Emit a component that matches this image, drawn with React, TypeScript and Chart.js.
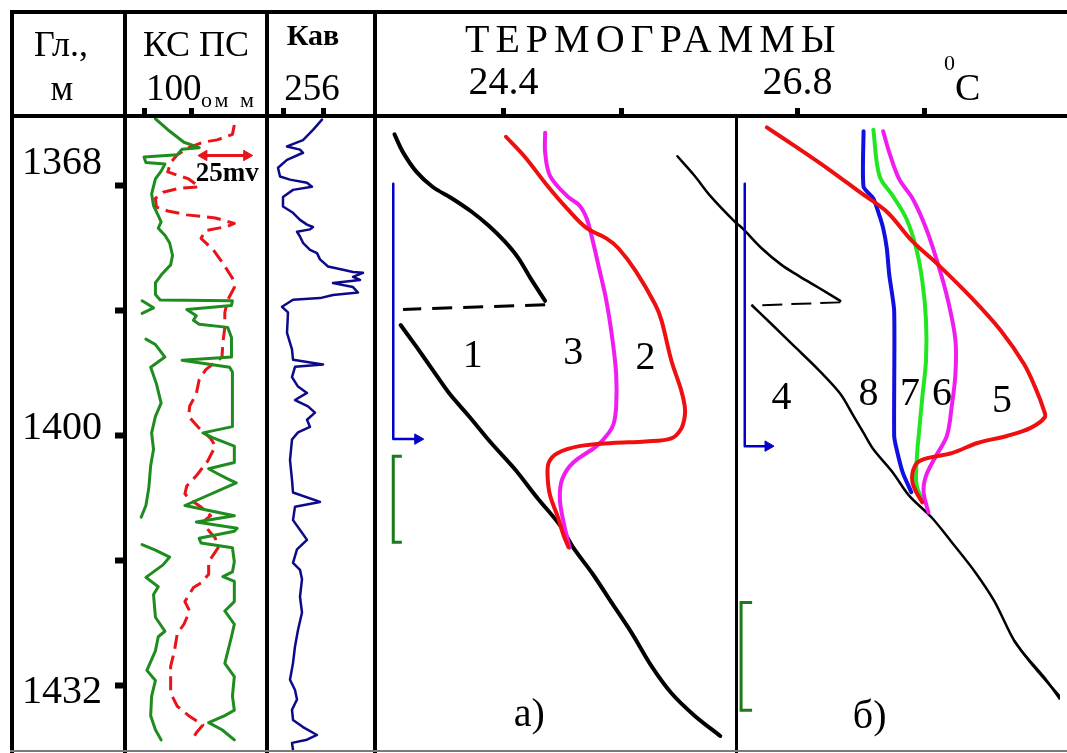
import React, { useEffect, useRef } from "react";
import { Chart, registerables } from "chart.js";

Chart.register(...registerables);

const SERIF = '"Liberation Serif", "Times New Roman", Times, serif';

// ---------- depth axis (m) ----------
const depthTop = 1359.3;
const depthBottom = 1439.3;
const depthTicks = [1368, 1384, 1400, 1416, 1432];
const depthTickLabels = ["1368", "", "1400", "", "1432"];

// ---------- track scales ----------
const ksRange = [-40, 244]; // КС, Ohm·m
const ksTicks = [0, 100];
const psRange = [-71, 0]; // ПС, mV
const kavRange = [200, 308]; // Кав, mm
const kavTicks = [216, 256];
const tempRange = [23.408, 28.944]; // °C
const tempTicks = [24.4, 25.36, 26.8, 27.84];
const tempTickLabels = ["24.4", "", "26.8", ""];

// ---------- КС (resistivity), [Ohm·m, depth] ----------
const ksMain = [
  [24, 1359.4], [50, 1360.8], [84, 1362.4], [116, 1363.1], [80, 1363.3], [70, 1364.0], [0, 1364.3],
  [4, 1365.0], [44, 1365.2], [36, 1366.1], [24, 1367.1], [16, 1369.0], [20, 1370.5], [30, 1371.8],
  [36, 1372.6], [30, 1373.4], [44, 1374.3], [54, 1375.3], [60, 1376.9], [56, 1378.1], [36, 1379.4],
  [24, 1380.4], [24, 1381.9], [34, 1382.6], [186, 1382.7], [184, 1383.3], [90, 1383.8], [110, 1384.6],
  [104, 1385.2], [116, 1385.7], [176, 1386.1], [184, 1387.4], [184, 1389.9], [80, 1390.3], [180, 1391.2],
  [186, 1391.8], [186, 1398.8], [124, 1399.6], [144, 1400.2], [190, 1401.3], [190, 1403.4], [136, 1404.2],
  [154, 1404.8], [176, 1405.5], [194, 1406.0], [86, 1408.9], [190, 1410.2], [110, 1411.0], [196, 1411.8],
  [190, 1412.2], [116, 1413.1], [120, 1413.7], [186, 1414.3], [190, 1416.1], [186, 1417.4], [166, 1418.0],
  [190, 1418.6], [190, 1421.2], [170, 1422.4], [190, 1424.1], [184, 1425.7], [170, 1429.1], [190, 1430.8],
  [186, 1433.3], [190, 1435.1], [170, 1435.8], [136, 1436.7], [164, 1437.6], [190, 1438.9],
];
const ksDeep = [
  [-4, 1382.7], [20, 1383.6], [-4, 1384.3], [null, null],
  [4, 1387.6], [24, 1388.3], [44, 1389.9], [14, 1391.2], [26, 1393.3], [36, 1395.8], [24, 1397.5],
  [16, 1399.6], [20, 1401.7], [14, 1403.8], [10, 1406.7], [4, 1408.9], [-6, 1410.4], [null, null],
  [-4, 1413.9], [24, 1414.6], [54, 1415.5], [40, 1416.5], [4, 1418.1], [30, 1419.3], [20, 1420.3],
  [24, 1423.2], [44, 1425.0], [30, 1425.7], [24, 1427.5], [6, 1430.0], [24, 1431.3], [16, 1433.3],
  [14, 1435.8], [24, 1437.6], [36, 1438.9],
];

// ---------- ПС (spontaneous potential), [mV, depth] ----------
const psCurve = [
  [-13.5, 1360.2], [-14.5, 1361.4], [-22.5, 1362.1], [-30, 1362.4], [-37.5, 1363.1], [-43.5, 1364.0],
  [-47, 1365.0], [-48.5, 1366.2], [-37.5, 1367.1], [-32, 1368.1], [-42.5, 1368.3], [-51, 1368.8],
  [-55, 1369.6], [-54.5, 1370.7], [-48.5, 1371.2], [-38.5, 1371.7], [-30, 1371.9], [-23.5, 1372.1],
  [-13.5, 1372.8], [-17.5, 1373.2], [-28.5, 1373.7], [-31, 1374.7], [-24.5, 1376.2], [-19.5, 1377.9],
  [-14.5, 1379.8], [-13.5, 1381.0], [-17, 1382.6], [-18.5, 1384.2], [-18.5, 1386.1], [-19.5, 1388.0],
  [-20, 1389.9], [-28.5, 1391.5], [-32, 1392.8], [-33.5, 1394.6], [-37, 1396.2], [-37.5, 1397.5],
  [-32, 1399.0], [-26, 1400.3], [-23.5, 1401.3], [-27.5, 1403.2], [-33.5, 1405.1], [-38.5, 1406.4],
  [-39.5, 1407.4], [-37, 1408.1], [-31, 1409.1], [-26, 1410.2], [-30, 1411.0], [-27, 1412.1],
  [-23.5, 1413.1], [-22, 1414.3], [-27, 1416.1], [-27, 1417.7], [-31, 1418.8], [-35, 1419.4],
  [-39.5, 1421.2], [-37, 1422.4], [-40, 1424.1], [-43.5, 1425.3], [-45, 1427.5], [-47, 1429.5],
  [-47, 1431.7], [-47, 1432.9], [-43.5, 1434.6], [-37.5, 1435.8], [-30, 1437.0], [-33.5, 1438.0],
  [-35, 1438.6],
];
// 25 mV scale bar
const psScaleBar = [[-29.5, 1364.1], [-7, 1364.1]];

// ---------- Кав (caliper), [mm, depth] ----------
const kavCurve = [
  [255, 1359.5], [246, 1360.8], [236, 1362.1], [220, 1362.9], [233, 1363.3], [236, 1363.7], [220, 1364.6],
  [211, 1365.6], [213, 1366.7], [223, 1367.1], [240, 1367.5], [245, 1368.0], [226, 1368.4], [216, 1369.3],
  [216, 1370.5], [226, 1371.3], [233, 1372.2], [240, 1372.8], [246, 1373.1], [243, 1373.4], [230, 1373.7],
  [233, 1374.3], [236, 1375.1], [243, 1376.0], [250, 1376.4], [253, 1377.2], [261, 1378.1], [276, 1378.5],
  [286, 1378.8], [296, 1378.9], [286, 1379.4], [293, 1379.8], [266, 1380.2], [286, 1380.7], [291, 1381.4],
  [266, 1381.7], [253, 1382.1], [226, 1382.3], [215, 1383.2], [221, 1383.9], [220, 1386.5], [225, 1388.6],
  [226, 1389.9], [256, 1390.5], [228, 1390.8], [225, 1392.1], [231, 1393.3], [240, 1394.1], [228, 1395.0],
  [241, 1395.8], [248, 1396.6], [240, 1397.5], [243, 1398.4], [231, 1399.1], [225, 1400.0], [223, 1402.6],
  [225, 1405.1], [226, 1406.7], [253, 1407.9], [228, 1408.5], [226, 1410.2], [235, 1411.8], [240, 1412.7],
  [230, 1413.9], [226, 1415.6], [233, 1416.5], [235, 1417.7], [233, 1419.9], [235, 1421.9], [231, 1424.1],
  [228, 1426.2], [226, 1428.3], [223, 1430.4], [228, 1431.7], [230, 1432.9], [225, 1434.2], [226, 1435.5],
  [236, 1436.4], [250, 1437.4], [240, 1438.0], [225, 1438.4], [226, 1439.3],
];

// ---------- thermograms, [°C, depth] ----------
const t1Upper = [
  [23.51, 1361.4], [23.58, 1363.7], [23.69, 1366.2], [23.82, 1368.1], [23.98, 1369.6], [24.14, 1371.3],
  [24.28, 1373.1], [24.41, 1375.1], [24.52, 1377.2], [24.62, 1379.8], [24.74, 1382.7],
];
const t1Link = [[24.74, 1383.2], [23.58, 1383.8]];
const t1Lower = [
  [23.56, 1385.8], [23.69, 1388.6], [23.82, 1391.5], [23.96, 1394.6], [24.12, 1397.5], [24.30, 1400.9],
  [24.49, 1404.2], [24.68, 1408.0], [24.86, 1411.4], [24.97, 1414.3], [25.13, 1417.7], [25.29, 1421.5],
  [25.45, 1425.3], [25.61, 1429.5], [25.77, 1432.9], [25.96, 1435.8], [26.17, 1438.4],
];
const t2 = [
  [24.42, 1361.7], [24.57, 1364.2], [24.76, 1368.0], [24.92, 1370.9], [25.08, 1373.4], [25.24, 1374.7],
  [25.34, 1376.0], [25.48, 1378.9], [25.64, 1383.2], [25.69, 1385.2], [25.77, 1390.3], [25.85, 1394.1],
  [25.88, 1396.2], [25.88, 1397.5], [25.85, 1399.1], [25.77, 1400.3], [25.56, 1400.7], [25.29, 1400.9],
  [25.02, 1401.3], [24.84, 1402.2], [24.77, 1403.4], [24.76, 1405.1], [24.78, 1407.6], [24.84, 1410.2],
  [24.89, 1412.7], [24.93, 1414.2],
];
const t3 = [
  [24.74, 1361.2], [24.74, 1363.7], [24.78, 1366.7], [24.92, 1369.3], [25.02, 1370.5], [25.08, 1372.2],
  [25.13, 1375.1], [25.18, 1378.5], [25.24, 1382.7], [25.29, 1387.7], [25.32, 1392.1], [25.32, 1396.2],
  [25.30, 1398.4], [25.26, 1399.6], [25.16, 1401.3], [24.97, 1403.4], [24.88, 1405.5], [24.86, 1408.0],
  [24.89, 1411.0], [24.94, 1414.3],
];
const t4Upper = [
  [25.82, 1364.2], [25.96, 1366.7], [26.09, 1369.3], [26.29, 1372.6], [26.35, 1373.4], [26.51, 1376.0],
  [26.67, 1378.1], [26.81, 1379.5], [26.97, 1381.0], [27.15, 1382.7],
];
const t4Link = [[27.15, 1382.9], [26.43, 1383.3]];
const t4Lower = [
  [26.43, 1383.3], [26.59, 1385.7], [26.78, 1388.6], [26.97, 1391.5], [27.15, 1394.6], [27.26, 1397.5],
  [27.34, 1399.6], [27.42, 1401.7], [27.58, 1404.7], [27.71, 1407.6], [27.90, 1410.5], [28.06, 1413.6],
  [28.25, 1417.4], [28.41, 1421.2], [28.57, 1426.2], [28.73, 1429.5], [28.94, 1433.3],
];
const t4Branch = [[28.57, 1426.2], [28.65, 1427.9], [28.81, 1430.8], [28.94, 1433.6]];
const t5 = [
  [26.55, 1360.5], [26.78, 1362.9], [27.05, 1365.8], [27.31, 1368.8], [27.53, 1371.3], [27.74, 1375.1],
  [27.95, 1378.1], [28.22, 1382.3], [28.46, 1386.5], [28.65, 1390.8], [28.75, 1394.1], [28.81, 1396.6],
  [28.82, 1397.6], [28.70, 1399.0], [28.51, 1400.0], [28.27, 1400.9], [28.06, 1402.2], [27.87, 1402.8],
  [27.78, 1403.4], [27.74, 1404.7], [27.74, 1406.0], [27.77, 1407.2], [27.82, 1408.5],
];
const t6 = [
  [27.50, 1361.0], [27.55, 1363.7], [27.63, 1367.1], [27.74, 1369.6], [27.85, 1373.4], [27.95, 1378.1],
  [28.03, 1382.7], [28.09, 1387.7], [28.09, 1392.1], [28.06, 1396.2], [28.02, 1400.0], [27.93, 1402.6],
  [27.85, 1405.1], [27.83, 1407.2], [27.87, 1409.8],
];
const t7 = [
  [27.42, 1360.8], [27.47, 1366.7], [27.58, 1369.3], [27.69, 1372.2], [27.77, 1376.0], [27.82, 1380.2],
  [27.85, 1385.2], [27.85, 1390.3], [27.82, 1395.0], [27.79, 1400.0], [27.78, 1401.7], [27.77, 1406.0],
  [27.81, 1408.0],
];
const t8 = [
  [27.34, 1361.0], [27.34, 1368.1], [27.42, 1369.6], [27.47, 1371.8], [27.50, 1373.4], [27.53, 1376.0],
  [27.55, 1379.4], [27.59, 1384.0], [27.59, 1400.0], [27.61, 1401.7], [27.66, 1404.7], [27.73, 1407.2],
];

// interval markers
const blueMarkA = [[23.5, 1367.7], [23.5, 1400.4], [23.7, 1400.4]];
const greenMarkA = [[23.57, 1402.6], [23.5, 1402.6], [23.5, 1413.6], [23.57, 1413.6]];
const blueMarkB = [[26.37, 1367.7], [26.37, 1401.3], [26.56, 1401.3]];
const greenMarkB = [[26.43, 1421.3], [26.34, 1421.3], [26.34, 1435.1], [26.43, 1435.1]];

// curve numbers
const thermoNotes = [
  { text: "1", x: 24.15, y: 1391.2 },
  { text: "3", x: 24.97, y: 1390.8 },
  { text: "2", x: 25.56, y: 1391.4 },
  { text: "а)", x: 24.61, y: 1437.1 },
  { text: "4", x: 26.67, y: 1396.6 },
  { text: "8", x: 27.38, y: 1396.0 },
  { text: "7", x: 27.72, y: 1396.0 },
  { text: "6", x: 27.98, y: 1396.0 },
  { text: "5", x: 28.47, y: 1396.9 },
  { text: "б)", x: 27.39, y: 1437.4 },
];

// ---------- colours ----------
const GREEN = "#1f8c1f";
const RED_PS = "#e8141a";
const NAVY = "#0b0b8a";
const RED = "#ee1010";
const MAGENTA = "#f01cf0";
const LIME = "#22e622";
const BLUE = "#1010e0";
const MARK_BLUE = "#0000c8";
const MARK_GREEN = "#1b7a1b";

// ---------- layout ----------
const PANEL_TOP = 14;
const PANEL_H = 736;
const HEADER_H = 104;
const DEPTH_W = 111;

const toXY = (pts: any[]) => pts.map(([v, d]) => ({ x: v, y: d }));

const curve = (pts: any[], color: string, width: number, extra: any = {}) => ({
  data: toXY(pts),
  borderColor: color,
  backgroundColor: color,
  borderWidth: width,
  pointRadius: 0,
  showLine: true,
  fill: false,
  tension: 0,
  spanGaps: false,
  borderCapStyle: "round",
  borderJoinStyle: "round",
  ...extra,
});

const arrowEnd = (pts: any[], color: string, width: number) =>
  curve(pts, color, width, {
    borderCapStyle: "butt",
    pointRadius: pts.map((_, i) => (i === pts.length - 1 ? 6 : 0)),
    pointStyle: "triangle",
    pointRotation: 90,
    pointBackgroundColor: color,
    pointBorderColor: color,
    pointBorderWidth: 1,
  });

const headerAxis = (range: number[], ticks: number[], labels?: string[]) => ({
  type: "linear",
  position: "top",
  bounds: "data",
  min: range[0],
  max: range[1],
  afterBuildTicks: (s: any) => {
    s.ticks = ticks.map((v) => ({ value: v }));
  },
  afterFit: (s: any) => {
    s.height = HEADER_H;
  },
  ticks: labels
    ? {
        display: true,
        autoSkip: false,
        maxRotation: 0,
        minRotation: 0,
        padding: 5,
        color: "#000",
        font: { family: SERIF, size: 40, lineHeight: 1 },
        callback: (_v: any, i: number) => labels[i],
      }
    : { display: false },
  grid: {
    display: true,
    drawOnChartArea: false,
    drawTicks: true,
    tickLength: 10,
    tickWidth: 5,
    color: "#000",
    tickColor: "#000",
  },
  border: { display: false },
});

const hiddenDepth = () => ({
  type: "linear",
  display: false,
  reverse: true,
  bounds: "data",
  min: depthTop,
  max: depthBottom,
});

const shownDepth = () => ({
  type: "linear",
  position: "left",
  reverse: true,
  bounds: "data",
  min: depthTop,
  max: depthBottom,
  afterBuildTicks: (s: any) => {
    s.ticks = depthTicks.map((v) => ({ value: v }));
  },
  afterFit: (s: any) => {
    s.width = DEPTH_W;
  },
  ticks: { display: false },
  grid: {
    display: true,
    drawOnChartArea: false,
    drawTicks: true,
    tickLength: 10,
    tickWidth: 6,
    color: "#000",
    tickColor: "#000",
  },
  border: { display: false },
});

const baseOptions = {
  responsive: false,
  animation: false,
  devicePixelRatio: 1,
  events: [],
  layout: { padding: 0 },
  plugins: {
    legend: { display: false },
    tooltip: { enabled: false },
    title: { display: false },
  },
};

// depth numbers beside the tick marks
const depthLabelPlugin = {
  id: "depthLabels",
  afterDraw(chart: any) {
    const ys = chart.scales.y;
    const ctx = chart.ctx;
    const shift = [-12, 0, 3, 0, 17];
    ctx.save();
    ctx.font = `40px ${SERIF}`;
    ctx.fillStyle = "#000";
    ctx.textAlign = "center";
    ctx.textBaseline = "alphabetic";
    depthTicks.forEach((d, i) => {
      const t = depthTickLabels[i];
      if (!t) return;
      ctx.fillText(t, chart.chartArea.left - 63, ys.getPixelForValue(d) + shift[i]);
    });
    ctx.restore();
  },
};

// text placed at data coordinates
const notesPlugin = (id: string, notes: any[], font: string) => ({
  id,
  afterDatasetsDraw(chart: any) {
    const xs = chart.scales.x;
    const ys = chart.scales.y;
    const ctx = chart.ctx;
    ctx.save();
    ctx.font = font;
    ctx.fillStyle = "#000";
    ctx.textAlign = "center";
    ctx.textBaseline = "alphabetic";
    notes.forEach((n) => ctx.fillText(n.text, xs.getPixelForValue(n.x), ys.getPixelForValue(n.y)));
    ctx.restore();
  },
});

const makeLogConfig = () => ({
  type: "scatter",
  data: {
    datasets: [
      curve(psScaleBar, RED_PS, 3, {
        xAxisID: "xPs",
        borderCapStyle: "butt",
        pointRadius: 6,
        pointStyle: "triangle",
        pointRotation: [-90, 90],
        pointBackgroundColor: RED_PS,
        pointBorderColor: RED_PS,
        pointBorderWidth: 1,
      }),
      curve(ksMain, GREEN, 3),
      curve(ksDeep, GREEN, 3),
      curve(psCurve, RED_PS, 3, { xAxisID: "xPs", borderDash: [14, 7], borderCapStyle: "butt" }),
    ],
  },
  options: {
    ...baseOptions,
    scales: {
      x: headerAxis(ksRange, ksTicks),
      xPs: { type: "linear", axis: "x", display: false, bounds: "data", min: psRange[0], max: psRange[1] },
      y: shownDepth(),
    },
  },
  plugins: [
    depthLabelPlugin,
    notesPlugin("mvNote", [{ text: "25mv", x: 175, y: 1367.4 }], `bold 27px ${SERIF}`),
  ],
});

const makeKavConfig = () => ({
  type: "scatter",
  data: { datasets: [curve(kavCurve, NAVY, 2.5)] },
  options: {
    ...baseOptions,
    scales: { x: headerAxis(kavRange, kavTicks), y: hiddenDepth() },
  },
});

const makeThermoConfig = () => ({
  type: "scatter",
  data: {
    datasets: [
      arrowEnd(blueMarkA, MARK_BLUE, 2.5),
      curve(greenMarkA, MARK_GREEN, 3, { borderCapStyle: "butt", borderJoinStyle: "miter" }),
      arrowEnd(blueMarkB, MARK_BLUE, 2.5),
      curve(greenMarkB, MARK_GREEN, 3, { borderCapStyle: "butt", borderJoinStyle: "miter" }),
      curve(t5, RED, 4, { tension: 0.35 }),
      curve(t2, RED, 4, { tension: 0.35 }),
      curve(t6, MAGENTA, 4, { tension: 0.35 }),
      curve(t3, MAGENTA, 4, { tension: 0.35 }),
      curve(t7, LIME, 4, { tension: 0.35 }),
      curve(t8, BLUE, 4, { tension: 0.2 }),
      curve(t1Upper, "#000", 4, { tension: 0.35 }),
      curve(t1Link, "#000", 3, { borderDash: [20, 11], borderCapStyle: "butt" }),
      curve(t1Lower, "#000", 4, { tension: 0.3 }),
      curve(t4Upper, "#000", 2.5, { tension: 0.35 }),
      curve(t4Link, "#000", 2, { borderDash: [20, 9], borderCapStyle: "butt" }),
      curve(t4Lower, "#000", 2.5, { tension: 0.3 }),
      curve(t4Branch, "#000", 2.5, { tension: 0.3 }),
    ],
  },
  options: {
    ...baseOptions,
    scales: { x: headerAxis(tempRange, tempTicks, tempTickLabels), y: hiddenDepth() },
  },
  plugins: [notesPlugin("curveNumbers", thermoNotes, `40px ${SERIF}`)],
});

function Panel({ left, width, make }: { left: number; width: number; make: () => any }) {
  const ref = useRef<HTMLCanvasElement | null>(null);
  useEffect(() => {
    if (!ref.current) return;
    const chart = new Chart(ref.current, make());
    return () => chart.destroy();
  }, []);
  return (
    <canvas
      ref={ref}
      width={width}
      height={PANEL_H}
      style={{ position: "absolute", left, top: PANEL_TOP, width, height: PANEL_H }}
    />
  );
}

function Txt(props: {
  x: number;
  base: number;
  size: number;
  children: React.ReactNode;
  center?: boolean;
  bold?: boolean;
  spacing?: number;
}) {
  const { x, base, size, children, center, bold, spacing } = props;
  const style: React.CSSProperties = {
    position: "absolute",
    top: base - 0.8375 * size,
    fontSize: size,
    lineHeight: `${size}px`,
    fontFamily: SERIF,
    fontWeight: bold ? 700 : 400,
    letterSpacing: spacing || 0,
    whiteSpace: "nowrap",
    color: "#000",
  };
  if (center) {
    style.left = x - 150;
    style.width = 300;
    style.textAlign = "center";
  } else {
    style.left = x;
  }
  return <div style={style}>{children}</div>;
}

const Bar = ({ l, t, w, h, c = "#000" }: { l: number; t: number; w: number; h: number; c?: string }) => (
  <div style={{ position: "absolute", left: l, top: t, width: w, height: h, background: c }} />
);

export default function App() {
  return (
    <div
      style={{
        position: "absolute",
        left: 0,
        top: 0,
        width: 1067,
        height: 753,
        background: "#fff",
        overflow: "hidden",
        fontFamily: SERIF,
      }}
    >
      <Panel left={14} width={253} make={makeLogConfig} />
      <Panel left={267} width={108} make={makeKavConfig} />
      <Panel left={375} width={692} make={makeThermoConfig} />

      {/* header captions */}
      <Txt x={61} base={56} size={36} center>Гл.,</Txt>
      <Txt x={62} base={100} size={36} center>м</Txt>
      <Txt x={196} base={56} size={36} center>КС ПС</Txt>
      <Txt x={146} base={100} size={37}>100</Txt>
      <Txt x={201} base={107} size={22} spacing={3}>ом м</Txt>
      <Txt x={313} base={45} size={30} center bold>Кав</Txt>
      <Txt x={312} base={100} size={37} center>256</Txt>
      <Txt x={465} base={52} size={40} spacing={6}>ТЕРМОГРАММЫ</Txt>
      <Txt x={944} base={70} size={22}>0</Txt>
      <Txt x={955} base={100} size={38}>C</Txt>

      {/* frame */}
      <Bar l={10} t={10} w={1057} h={4} />
      <Bar l={10} t={10} w={4} h={743} />
      <Bar l={10} t={114} w={1057} h={4} />
      <Bar l={123} t={10} w={4} h={743} />
      <Bar l={265} t={10} w={4} h={743} />
      <Bar l={373} t={10} w={4} h={743} />
      <Bar l={735} t={118} w={3} h={635} />
      <Bar l={10} t={750} w={1057} h={2} c="#7a7a7a" />
    </div>
  );
}
